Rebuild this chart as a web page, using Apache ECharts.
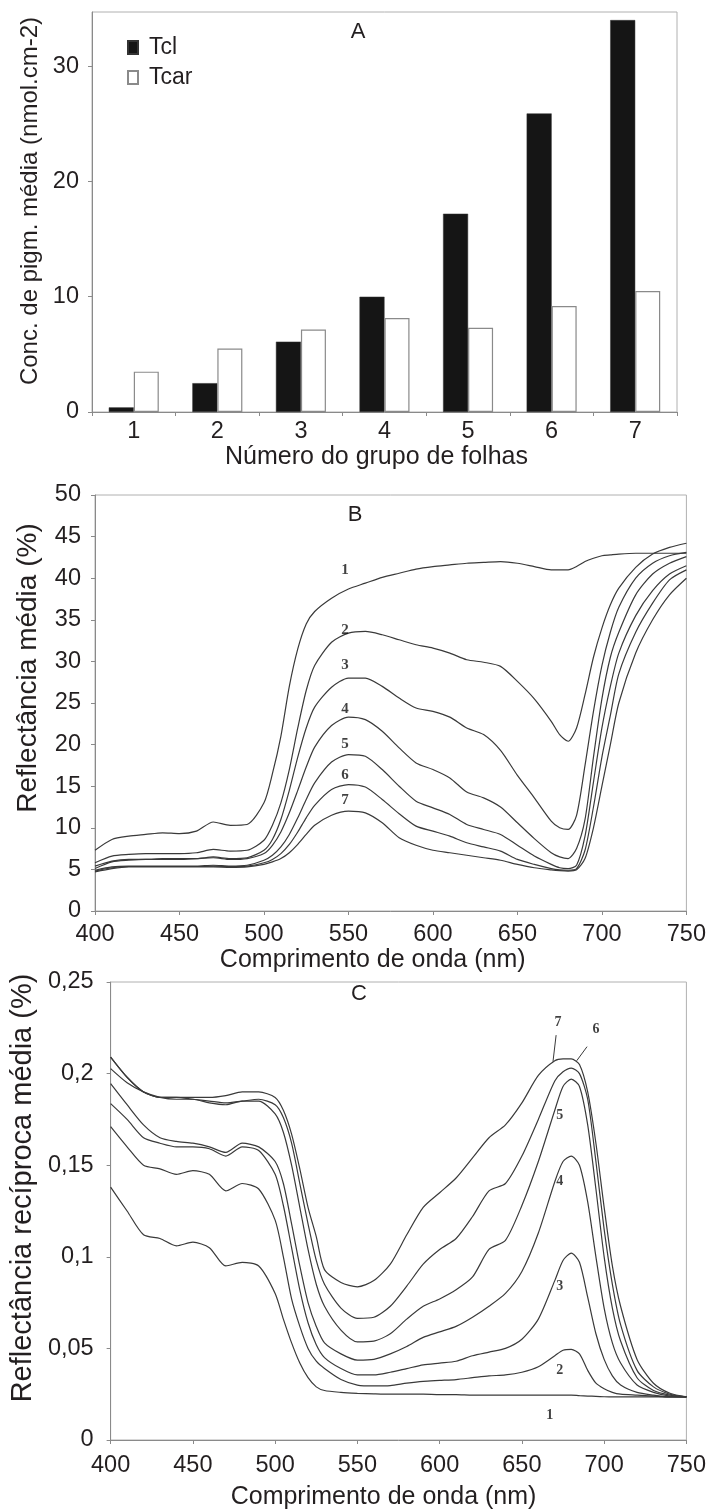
<!DOCTYPE html>
<html><head><meta charset="utf-8">
<script src="https://cdn.jsdelivr.net/npm/echarts@6/dist/echarts.min.js"></script>
<style>html,body{margin:0;padding:0;background:#fff}#c{width:709px;height:1512px}</style>
</head><body><div id="c"></div>
<script>
// ---------- Panel A data ----------
const groups = ['1','2','3','4','5','6','7'];
const tcl  = [0.4, 2.5, 6.1, 10.0, 17.2, 25.9, 34.0];
const tcar = [3.5, 5.5, 7.15, 8.15, 7.3, 9.2, 10.5];

// ---------- Panel B / C shared wavelengths (nm) ----------
const wavelengths = [400,410,420,430,440,450,460,470,480,490,500,505,510,515,520,525,530,540,550,560,570,580,590,600,610,620,630,640,650,660,670,675,680,685,690,695,700,705,710,720,730,740,750];

// ---------- Panel B: mean reflectance (%) ----------
const reflB1 = [7.3,8.6,9.0,9.2,9.4,9.3,9.6,10.7,10.3,10.4,13.0,16.5,21.0,27.0,31.5,34.5,36.0,37.6,38.7,39.4,40.1,40.6,41.1,41.4,41.6,41.8,41.9,42.0,41.8,41.4,41.0,41.0,41.0,41.4,42.0,42.4,42.7,42.8,42.9,43.0,43.0,43.0,43.0];
const reflB2 = [5.8,6.6,6.8,6.9,6.9,6.9,7.0,7.4,7.2,7.3,8.5,10.3,13.0,17.0,22.0,26.5,29.5,32.3,33.4,33.6,33.2,32.6,32.0,31.6,31.0,30.2,29.9,29.4,27.6,25.5,22.8,21.2,20.4,22.0,26.0,30.5,34.0,36.8,38.8,41.3,42.9,43.7,44.2];
const reflB3 = [5.4,6.0,6.2,6.2,6.3,6.3,6.3,6.5,6.3,6.4,7.3,8.6,11.0,14.5,18.5,22.0,24.5,26.9,28.0,28.0,27.0,25.6,24.4,24.0,23.3,22.0,21.2,19.3,16.3,13.6,10.8,10.0,9.8,11.5,17.5,24.0,29.5,33.5,36.5,40.0,41.8,42.7,43.1];
const reflB4 = [5.1,5.9,6.1,6.2,6.2,6.2,6.3,6.4,6.2,6.3,6.9,7.9,9.5,11.8,14.5,17.3,19.7,22.3,23.3,23.0,21.6,19.6,17.8,17.0,16.0,14.3,13.6,12.5,10.6,8.7,7.0,6.5,6.3,7.5,11.0,18.5,25.5,30.5,33.5,38.0,40.5,41.8,42.6];
const reflB5 = [4.9,5.3,5.4,5.4,5.4,5.4,5.4,5.5,5.4,5.5,6.1,6.7,7.7,9.2,11.2,13.4,15.4,17.9,18.8,18.6,17.0,15.0,13.2,12.4,11.6,10.4,9.8,9.2,7.9,6.6,5.6,5.2,5.1,5.5,9.0,15.5,22.0,27.0,31.0,35.5,38.5,40.5,41.5];
const reflB6 = [4.8,5.2,5.35,5.35,5.35,5.35,5.35,5.4,5.35,5.4,5.8,6.2,6.9,8.0,9.5,11.2,12.7,14.6,15.2,14.9,13.4,11.7,10.2,9.6,9.0,8.2,7.7,7.2,6.2,5.6,5.1,4.95,4.9,5.1,7.3,12.5,18.5,23.5,28.5,33.5,37.0,39.8,41.0];
const reflB7 = [4.7,5.1,5.3,5.3,5.3,5.3,5.3,5.3,5.25,5.3,5.6,5.9,6.3,7.0,8.0,9.2,10.3,11.5,12.0,11.8,10.6,8.8,7.9,7.3,7.0,6.7,6.4,6.1,5.6,5.2,4.95,4.85,4.8,4.95,6.3,10.0,15.0,20.0,25.0,31.0,35.0,38.0,40.0];

// ---------- Panel C: mean reciprocal reflectance ----------
const recipC1 = [0.138,0.125,0.112,0.110,0.106,0.108,0.105,0.095,0.097,0.095,0.080,0.066,0.053,0.042,0.034,0.029,0.027,0.026,0.0255,0.0252,0.025,0.025,0.025,0.0248,0.0248,0.0245,0.0245,0.0245,0.0245,0.0245,0.0245,0.0245,0.0245,0.0242,0.024,0.0238,0.0236,0.0235,0.0235,0.0235,0.0235,0.0235,0.0235];
const recipC2 = [0.171,0.160,0.150,0.148,0.145,0.147,0.145,0.136,0.140,0.137,0.120,0.100,0.077,0.062,0.050,0.043,0.039,0.033,0.030,0.0295,0.0297,0.031,0.032,0.0325,0.033,0.034,0.035,0.0355,0.037,0.040,0.046,0.049,0.0495,0.047,0.038,0.031,0.028,0.026,0.025,0.0245,0.024,0.0235,0.0235];
const recipC3 = [0.1836,0.175,0.165,0.162,0.160,0.160,0.159,0.155,0.160,0.158,0.145,0.128,0.105,0.082,0.064,0.052,0.045,0.039,0.0355,0.0355,0.037,0.039,0.041,0.042,0.043,0.046,0.048,0.050,0.055,0.066,0.087,0.098,0.102,0.097,0.078,0.058,0.044,0.035,0.030,0.026,0.0245,0.0235,0.0235];
const recipC4 = [0.1945,0.183,0.172,0.165,0.163,0.162,0.160,0.157,0.162,0.160,0.152,0.140,0.118,0.095,0.075,0.062,0.053,0.047,0.0436,0.044,0.047,0.051,0.056,0.059,0.062,0.067,0.073,0.080,0.092,0.113,0.141,0.152,0.155,0.150,0.130,0.100,0.072,0.053,0.042,0.030,0.026,0.024,0.0235];
const recipC5 = [0.2027,0.195,0.190,0.187,0.186,0.186,0.184,0.183,0.185,0.185,0.178,0.168,0.150,0.127,0.104,0.085,0.073,0.060,0.0536,0.054,0.058,0.066,0.073,0.077,0.082,0.089,0.104,0.109,0.128,0.152,0.180,0.193,0.197,0.193,0.172,0.137,0.100,0.072,0.054,0.034,0.027,0.0245,0.0235];
const recipC6 = [0.209,0.198,0.190,0.187,0.187,0.186,0.185,0.184,0.185,0.186,0.183,0.176,0.162,0.140,0.118,0.098,0.085,0.072,0.0664,0.067,0.073,0.084,0.096,0.104,0.110,0.122,0.136,0.140,0.155,0.175,0.196,0.201,0.203,0.200,0.186,0.152,0.115,0.085,0.063,0.038,0.029,0.025,0.0235];
const recipC7 = [0.209,0.198,0.190,0.187,0.187,0.187,0.187,0.188,0.190,0.190,0.187,0.180,0.167,0.148,0.127,0.111,0.093,0.086,0.0836,0.087,0.096,0.112,0.127,0.135,0.143,0.154,0.165,0.172,0.184,0.199,0.207,0.208,0.208,0.205,0.190,0.162,0.127,0.095,0.073,0.044,0.031,0.0255,0.0236];

// ---------- Curve labels ----------
const curveNames = ['1','2','3','4','5','6','7'];
const bLabelPos = [[548,41.0],[548,33.7],[548,29.5],[548,24.3],[548,20.1],[548,16.3],[548,13.3]];
const cLabelPos = [[667,0.0136],[673,0.038],[673,0.0836],[673,0.141],[673,0.177],[695,0.224],[672,0.228]];
const cLeaders = [[[670.8,0.221],[668.9,0.2065]], [[689.6,0.2147],[683.3,0.207]]];

const reflB = [reflB1,reflB2,reflB3,reflB4,reflB5,reflB6,reflB7];
const recipC = [recipC1,recipC2,recipC3,recipC4,recipC5,recipC6,recipC7];

const FONT = 'Liberation Sans, Arial, sans-serif';
const TXT = '#231f20';
const AX = '#8a8a8a';

function pairs(ys){ return wavelengths.map((w,i)=>[w, ys[i]]); }

const chart = echarts.init(document.getElementById('c'), null, {renderer:'canvas'});

const commonAxis = {
  axisLine:{show:true, onZero:false, lineStyle:{color:AX, width:1}},
  axisTick:{show:true, length:4, lineStyle:{color:AX}},
  splitLine:{show:false},
  nameTextStyle:{fontFamily:FONT, color:TXT},
};
const tickFont = {fontFamily:FONT, fontSize:23.5, color:TXT};

const series = [];
series.push({name:'Tcl', type:'bar', xAxisIndex:0, yAxisIndex:0, data:tcl, barWidth:25, barGap:'0%',
  itemStyle:{color:'#151515', borderColor:'#333', borderWidth:0.5}});
series.push({name:'Tcar', type:'bar', xAxisIndex:0, yAxisIndex:0, data:tcar, barWidth:25, barGap:'0%',
  itemStyle:{color:'#ffffff', borderColor:'#8a8a8a', borderWidth:1.2}});

reflB.forEach((ys,k)=>{
  series.push({name:'B'+curveNames[k], type:'line', xAxisIndex:1, yAxisIndex:1, data:pairs(ys),
    showSymbol:false, smooth:0.25, lineStyle:{color:'#3a3a3a', width:1.2}, silent:true});
});
recipC.forEach((ys,k)=>{
  series.push({name:'C'+curveNames[k], type:'line', xAxisIndex:2, yAxisIndex:2, data:pairs(ys),
    showSymbol:false, smooth:0.25, lineStyle:{color:'#3a3a3a', width:1.2}, silent:true});
});
cLeaders.forEach((seg,k)=>{
  series.push({name:'lead'+k, type:'line', xAxisIndex:2, yAxisIndex:2, data:seg,
    showSymbol:false, lineStyle:{color:'#3a3a3a', width:1}, silent:true});
});
const labelStyle = {show:true, position:'inside', fontFamily:'Liberation Serif, Times New Roman, serif',
  fontWeight:'bold', fontSize:15, color:'#111', formatter:p=>p.data[2]};
series.push({name:'labB', type:'scatter', xAxisIndex:1, yAxisIndex:1, symbol:'circle', symbolSize:2,
  itemStyle:{color:'rgba(0,0,0,0)'}, data:bLabelPos.map((p,i)=>[p[0],p[1],curveNames[i]]), label:labelStyle, silent:true, z:5});
series.push({name:'labC', type:'scatter', xAxisIndex:2, yAxisIndex:2, symbol:'circle', symbolSize:2,
  itemStyle:{color:'rgba(0,0,0,0)'}, data:cLabelPos.map((p,i)=>[p[0],p[1],curveNames[i]]),
  label:Object.assign({}, labelStyle, {fontSize:14}), silent:true, z:5});

const option = {
  animation:false,
  backgroundColor:'#ffffff',
  textStyle:{fontFamily:FONT},
  legend:{
    data:['Tcl','Tcar'], orient:'vertical', left:122, top:31, itemWidth:10, itemHeight:13, itemGap:7,
    icon:'rect', textStyle:{fontFamily:FONT, fontSize:23, color:TXT, padding:[0,0,0,6]}, selectedMode:false
  },
  grid:[
    {left:92, top:12, width:585, height:400, show:true, borderColor:'#b0b0b0', borderWidth:1},
    {left:95, top:495, width:592, height:416, show:true, borderColor:'#b0b0b0', borderWidth:1},
    {left:101, top:982, width:591, height:458, show:true, borderColor:'#b0b0b0', borderWidth:1}
  ],
  xAxis:[
    Object.assign({}, commonAxis, {gridIndex:0, type:'category', data:groups,
      axisLabel:Object.assign({margin:8}, tickFont),
      name:'Número do grupo de folhas', nameLocation:'middle', nameGap:33,
      nameTextStyle:{fontFamily:FONT, fontSize:25, color:TXT, padding:[0,16,0,0]}}),
    Object.assign({}, commonAxis, {gridIndex:1, type:'value', min:400, max:750, interval:50,
      axisLabel:Object.assign({margin:12}, tickFont),
      name:'Comprimento de onda (nm)', nameLocation:'middle', nameGap:33,
      nameTextStyle:{fontFamily:FONT, fontSize:25, color:TXT, padding:[0,36,0,0]}}),
    Object.assign({}, commonAxis, {gridIndex:2, type:'value', min:400, max:750, interval:50,
      axisLabel:Object.assign({margin:14}, tickFont),
      name:'Comprimento de onda (nm)', nameLocation:'middle', nameGap:45,
      nameTextStyle:{fontFamily:FONT, fontSize:25, color:TXT, padding:[0,30,0,0]}})
  ],
  yAxis:[
    Object.assign({}, commonAxis, {gridIndex:0, type:'value', min:0, max:34.7, interval:10,
      axisLabel:Object.assign({margin:13, showMaxLabel:false}, tickFont),
      name:'Conc. de pigm. média (nmol.cm-2)', nameLocation:'middle', nameGap:46,
      nameTextStyle:{fontFamily:FONT, fontSize:24, color:TXT, padding:[0,0,0,22]}}),
    Object.assign({}, commonAxis, {gridIndex:1, type:'value', min:0, max:50, interval:5,
      axisLabel:Object.assign({margin:14}, tickFont),
      name:'Reflectância média (%)', nameLocation:'middle', nameGap:53,
      nameTextStyle:{fontFamily:FONT, fontSize:28, color:TXT, padding:[0,0,0,70]}}),
    Object.assign({}, commonAxis, {gridIndex:2, type:'value', min:0, max:0.25, interval:0.05,
      axisLabel:Object.assign({margin:17,
        formatter:v=>String(+(+v).toFixed(2)).replace('.', ',')}, tickFont),
      name:'Reflectância recíproca média (%)', nameLocation:'middle', nameGap:59,
      nameTextStyle:{fontFamily:FONT, fontSize:29, color:TXT, padding:[0,0,0,46]}})
  ],
  graphic:[
    {type:'text', x:358, y:32, style:{text:'A', font:'22px '+FONT, fill:TXT, textAlign:'center', textVerticalAlign:'middle'}},
    {type:'text', x:355, y:515, style:{text:'B', font:'22px '+FONT, fill:TXT, textAlign:'center', textVerticalAlign:'middle'}},
    {type:'text', x:359, y:994, style:{text:'C', font:'22px '+FONT, fill:TXT, textAlign:'center', textVerticalAlign:'middle'}}
  ],
  series:series
};
chart.setOption(option);
</script>
</body></html>
